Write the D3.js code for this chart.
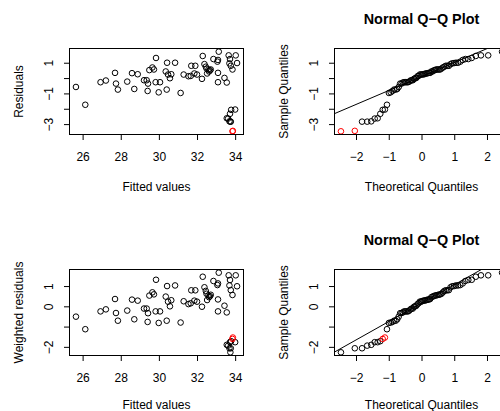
<!DOCTYPE html>
<html>
<head>
<meta charset="utf-8">
<script src="https://cdn.jsdelivr.net/npm/d3@7"></script>
<style>
  html, body { margin: 0; padding: 0; background: #fff; }
  svg { display: block; }
  text { font-family: "Liberation Sans", Arial, Helvetica, sans-serif; fill: #000; }
</style>
</head>
<body>
<svg id="chart" width="500" height="411"></svg>
<script>
// Model diagnostics: residuals vs fitted and normal Q-Q plots (raw and weighted)
const fitted = [
  25.65, 26.14, 26.94, 27.22, 27.70, 27.75, 27.85, 28.34, 28.59, 28.71,
  28.89, 29.22, 29.36, 29.43, 29.41, 29.50, 29.66, 29.74, 29.85, 29.83,
  30.06, 29.99, 30.36, 30.43, 30.48, 30.58, 30.65, 30.41, 30.85, 31.14,
  31.30, 31.55, 31.67, 31.70, 31.91, 31.86, 32.00, 32.26, 32.30, 32.39,
  32.46, 32.53, 32.60, 32.63, 32.72, 32.86, 33.07, 33.10, 33.14, 33.10,
  33.10, 33.44, 33.56, 33.66, 33.73, 33.70, 33.77, 33.86, 34.03, 34.10,
  32.50, 32.68,
  33.79, 34.00, 33.73, 33.56, 33.63, 33.70, 33.77, 33.75,
  33.86, 33.88
];
const residuals = [
  -0.58, -1.74, -0.27, -0.16, 0.34, -0.36, -0.75, -0.23, 0.32, -0.71,
  0.25, -0.14, -0.14, -0.36, -0.84, 0.52, 0.69, 0.56, 1.31, -0.27,
  -0.27, -0.93, 0.43, 1.00, 0.23, -0.01, 0.25, -0.75, 1.00, -0.97,
  0.23, 0.12, 0.14, 0.80, 0.80, 0.30, 0.23, -0.05, 1.44, 0.91,
  0.74, 0.30, 0.56, 0.43, 0.56, 1.24, 1.07, 1.18, 1.72, 0.34,
  -0.27, 0.01, -0.29, 1.48, 1.24, 0.96, 0.80, 0.56, 1.48, 0.98,
  0.62, 0.50,
  -2.07, -2.05, -2.33, -2.62, -2.64, -2.82, -2.84, -2.84,
  -3.47, -3.44
];
const weightedResiduals = [
  -0.51, -1.13, -0.25, -0.15, 0.36, -0.33, -0.71, -0.21, 0.33, -0.64,
  0.28, -0.11, -0.11, -0.34, -0.77, 0.53, 0.69, 0.59, 1.31, -0.25,
  -0.25, -0.82, 0.48, 1.00, 0.23, 0.00, 0.30, -0.71, 1.03, -0.80,
  0.25, 0.11, 0.15, 0.79, 0.79, 0.28, 0.23, -0.02, 1.46, 0.94,
  0.76, 0.31, 0.54, 0.45, 0.57, 1.25, 1.05, 1.13, 1.66, 0.34,
  -0.25, 0.03, -0.30, 1.53, 1.30, 1.03, 0.80, 0.56, 1.53, 0.99,
  0.62, 0.50,
  -1.72, -1.77, -1.77, -1.90, -1.94, -2.07, -2.07, -2.27,
  -1.61, -1.54
];
// observations drawn in red (zero-based)
const flagged = [70, 71];

const fittedTicks = [26, 28, 30, 32, 34];
const quantileTicks = [-2, -1, 0, 1, 2];
const residTicks = [-3, -2, -1, 0, 1];
const residTickLabels = [1, -1, -3];
const wresidTicks = [-2, -1, 0, 1];
const wresidTickLabels = [1, 0, -2];
// reference lines for the Q-Q panels: [intercept, slope]
const qqLineTop = [0.10, 0.91];
const qqLineBottom = [0.156, 0.908];

const MINUS = "\u2212";
const fmt = v => (v < 0 ? MINUS + Math.abs(v) : String(v));

// inverse standard normal CDF (Acklam)
function qnorm(p) {
  const a = [-3.969683028665376e+01, 2.209460984245205e+02, -2.759285104469687e+02, 1.383577518672690e+02, -3.066479806614716e+01, 2.506628277459239e+00];
  const b = [-5.447609879822406e+01, 1.615858368580409e+02, -1.556989798598866e+02, 6.680131188771972e+01, -1.328068155288572e+01];
  const c = [-7.784894002430293e-03, -3.223964580411365e-01, -2.400758277161838e+00, -2.549732539343734e+00, 4.374664141464968e+00, 2.938163982698783e+00];
  const d = [7.784695709041462e-03, 3.224671290700398e-01, 2.445134137142996e+00, 3.754408661907416e+00];
  const pl = 0.02425, ph = 1 - pl;
  if (p < pl) {
    const q = Math.sqrt(-2 * Math.log(p));
    return (((((c[0]*q+c[1])*q+c[2])*q+c[3])*q+c[4])*q+c[5]) / ((((d[0]*q+d[1])*q+d[2])*q+d[3])*q+1);
  }
  if (p <= ph) {
    const q = p - 0.5, r = q * q;
    return (((((a[0]*r+a[1])*r+a[2])*r+a[3])*r+a[4])*r+a[5])*q / (((((b[0]*r+b[1])*r+b[2])*r+b[3])*r+b[4])*r+1);
  }
  const q = Math.sqrt(-2 * Math.log(1 - p));
  return -(((((c[0]*q+c[1])*q+c[2])*q+c[3])*q+c[4])*q+c[5]) / ((((d[0]*q+d[1])*q+d[2])*q+d[3])*q+1);
}

// extend a data range by 4% on each side
const padded = ext => { const r = ext[1] - ext[0]; return [ext[0] - 0.04 * r, ext[1] + 0.04 * r]; };

const svg = d3.select("#chart");
const box = { left: 69.5, top: 48.5, width: 174, height: 86 };
const colX = [0, 265], rowY = [0, 221];
// distance from frame bottom to the x-axis title baseline, per row
const xTitleGap = [56, 53];

function panel(col, row, spec) {
  const g = svg.append("g").attr("transform", `translate(${colX[col]},${rowY[row]})`);
  const x = d3.scaleLinear().domain(padded(d3.extent(spec.xs))).range([box.left, box.left + box.width]);
  const y = d3.scaleLinear().domain(padded(d3.extent(spec.ys))).range([box.top + box.height, box.top]);
  const clipId = `clip-${col}-${row}`;
  g.append("clipPath").attr("id", clipId)
    .append("rect").attr("x", box.left).attr("y", box.top).attr("width", box.width).attr("height", box.height);

  // x axis
  const xa = g.append("g").attr("transform", `translate(0,${box.top + box.height})`)
    .call(d3.axisBottom(x).tickValues(spec.xTicks).tickSize(5.5).tickSizeOuter(0).tickFormat(fmt));
  xa.select(".domain").remove();
  xa.selectAll("line").attr("stroke", "#000");
  xa.selectAll("text").attr("y", 26.5).attr("dy", null).style("font-size", "12px");

  // y axis with rotated labels; only some ticks carry a label
  const ya = g.append("g").attr("transform", `translate(${box.left},0)`)
    .call(d3.axisLeft(y).tickValues(spec.yTicks).tickSize(5.5).tickSizeOuter(0)
      .tickFormat(v => spec.yLabels.includes(v) ? fmt(v) : ""));
  ya.select(".domain").remove();
  ya.selectAll("line").attr("stroke", "#000");
  ya.selectAll("text")
    .attr("transform", "rotate(-90)")
    .attr("x", 0).attr("y", -17).attr("dy", null)
    .attr("text-anchor", "middle")
    .style("font-size", "12px");

  // reference line
  if (spec.line) {
    const [b0, b1] = spec.line, [d0, d1] = x.domain();
    g.append("line").attr("clip-path", `url(#${clipId})`)
      .attr("x1", x(d0)).attr("y1", y(b0 + b1 * d0))
      .attr("x2", x(d1)).attr("y2", y(b0 + b1 * d1))
      .attr("stroke", "#000").attr("stroke-width", 1);
  }

  // points
  g.append("g").selectAll("circle").data(spec.pts).join("circle")
    .attr("cx", d => x(d.x)).attr("cy", d => y(d.y)).attr("r", 2.8)
    .attr("fill", "none").attr("stroke-width", 1)
    .attr("stroke", d => d.red ? "#ff0000" : "#000");

  // frame
  g.append("rect").attr("x", box.left).attr("y", box.top).attr("width", box.width).attr("height", box.height)
    .attr("fill", "none").attr("stroke", "#000").attr("stroke-width", 1);

  // titles
  g.append("text").attr("x", box.left + box.width / 2).attr("y", box.top + box.height + xTitleGap[row])
    .attr("text-anchor", "middle").style("font-size", "12px").text(spec.xTitle);
  g.append("text").attr("transform", `translate(${box.left - 46.5},${box.top + box.height / 2}) rotate(-90)`)
    .attr("text-anchor", "middle").style("font-size", "12px").text(spec.yTitle);
  if (spec.main) {
    g.append("text").attr("x", box.left + box.width / 2).attr("y", box.top - 24.5)
      .attr("text-anchor", "middle").style("font-size", "14.4px").style("font-weight", "bold").text(spec.main);
  }
}

function scatterSpec(vals) {
  return fitted.map((f, i) => ({ x: f, y: vals[i], red: flagged.includes(i) }));
}
function qqSpec(vals) {
  const n = vals.length;
  const order = d3.range(n).sort((a, b) => vals[a] - vals[b]);
  return order.map((idx, k) => ({ x: qnorm((k + 1 - 0.5) / n), y: vals[idx], red: flagged.includes(idx) }));
}

const rows = [
  { vals: residuals, yTicks: residTicks, yLabels: residTickLabels, yTitle: "Residuals", line: qqLineTop },
  { vals: weightedResiduals, yTicks: wresidTicks, yLabels: wresidTickLabels, yTitle: "Weighted residuals", line: qqLineBottom }
];

rows.forEach((r, ri) => {
  const sp = scatterSpec(r.vals);
  panel(0, ri, {
    pts: sp, xs: sp.map(d => d.x), ys: sp.map(d => d.y),
    xTicks: fittedTicks, yTicks: r.yTicks, yLabels: r.yLabels,
    xTitle: "Fitted values", yTitle: r.yTitle
  });
  const qp = qqSpec(r.vals);
  panel(1, ri, {
    pts: qp, xs: qp.map(d => d.x), ys: qp.map(d => d.y),
    xTicks: quantileTicks, yTicks: r.yTicks, yLabels: r.yLabels,
    xTitle: "Theoretical Quantiles", yTitle: "Sample Quantiles",
    main: "Normal Q\u2212Q Plot", line: r.line
  });
});
</script>
</body>
</html>
